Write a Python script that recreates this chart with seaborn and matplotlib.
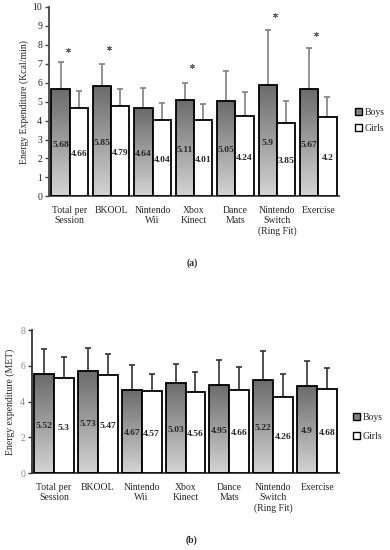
import numpy as np
import pandas as pd
import matplotlib
matplotlib.use("Agg")
import matplotlib.pyplot as plt
import seaborn as sns
from matplotlib.colors import LinearSegmentedColormap
from matplotlib.patches import Patch

# ---------------- data ----------------
categories = ["Total per\nSession", "BKOOL", "Nintendo\nWii", "Xbox\nKinect",
              "Dance\nMats", "Nintendo\nSwitch\n(Ring Fit)", "Exercise"]
groups = ["Boys", "Girls"]

kcal_boys = [5.68, 5.85, 4.64, 5.11, 5.05, 5.9, 5.67]
kcal_girls = [4.66, 4.79, 4.04, 4.01, 4.24, 3.85, 4.2]
kcal_boys_sd = [1.39, 1.16, 1.07, 0.88, 1.57, 2.89, 2.17]
kcal_girls_sd = [0.89, 0.89, 0.88, 0.89, 1.28, 1.19, 1.05]
kcal_star_y = [7.75, 7.84, None, 6.86, None, 9.56, 8.6]

met_boys = [5.52, 5.73, 4.67, 5.03, 4.95, 5.22, 4.9]
met_girls = [5.3, 5.47, 4.57, 4.56, 4.66, 4.26, 4.68]
met_boys_sd = [1.41, 1.29, 1.40, 1.09, 1.40, 1.61, 1.39]
met_girls_sd = [1.20, 1.21, 1.00, 1.12, 1.30, 1.31, 1.20]

sns.set_style("ticks")
plt.rcParams["font.family"] = ["Liberation Serif", "DejaVu Serif"]

fig = plt.figure(figsize=(3.9, 5.5), dpi=100)
ax_a = fig.add_axes([49 / 390, 1 - 196.3 / 550, 290 / 390, 189.3 / 550])
ax_b = fig.add_axes([32 / 390, 1 - 473.3 / 550, 307 / 390, 143.3 / 550])

grad_cmap = LinearSegmentedColormap.from_list("g", ["#d4d4d4", "#6a6a6a"])
grad = np.linspace(0, 1, 256).reshape(-1, 1)


def draw_panel(ax, boys, girls, boys_sd, girls_sd, width, ylim, yticks,
               ecolor, spine_color, ticklabel_color, ylabel, ylabel_x,
               legend_anchor, labelspacing, stars=None):
    df = pd.DataFrame({
        "Category": categories * 2,
        "Sex": ["Boys"] * len(categories) + ["Girls"] * len(categories),
        "Value": boys + girls,
    })
    sns.barplot(data=df, x="Category", y="Value", hue="Sex", hue_order=groups,
                palette={"Boys": "#9a9a9a", "Girls": "white"},
                edgecolor="black", linewidth=1.3, width=width,
                errorbar=None, legend=False, ax=ax)

    conts = ax.containers
    for cont, vals, sds in zip(conts, [boys, girls], [boys_sd, girls_sd]):
        xs = [b.get_x() + b.get_width() / 2 for b in cont]
        ax.errorbar(xs, vals, yerr=[np.zeros(len(sds)), sds], fmt="none",
                    ecolor=ecolor, elinewidth=1.2, capsize=2.3, capthick=1.2,
                    zorder=1.5)
        for b in cont:
            b.set_zorder(3)
        for x, v in zip(xs, vals):
            ax.text(x, v * 0.48, f"{v:g}", ha="center", va="center",
                    fontsize=6.8, fontweight="bold", zorder=5)

    # gradient fill for boys bars
    for b in conts[0]:
        x0, w, h = b.get_x(), b.get_width(), b.get_height()
        im = ax.imshow(grad, extent=[x0, x0 + w, 0, h], origin="lower",
                       cmap=grad_cmap, aspect="auto", zorder=2.5,
                       interpolation="bilinear")
        im.set_clip_path(b)
        b.set_facecolor("none")

    if stars is not None:
        for i, sy in enumerate(stars):
            if sy is not None:
                ax.scatter([i - 0.05], [sy], marker=(6, 2, 0), s=8,
                           color="#666666", linewidths=0.7, zorder=5)

    ax.set_xlim(-0.5, len(categories) - 0.5)
    ax.set_ylim(*ylim)
    ax.set_yticks(yticks)
    ax.set_xlabel("")
    ax.set_ylabel(ylabel, fontsize=7)
    ax.yaxis.set_label_coords(ylabel_x, 0.5)
    ax.tick_params(axis="x", length=0, pad=7, labelsize=7)
    ax.tick_params(axis="y", length=3, width=1, color=spine_color,
                   labelsize=7, labelcolor=ticklabel_color, pad=2)
    for lbl in ax.get_xticklabels():
        lbl.set_linespacing(1.15)
    sns.despine(ax=ax)
    for s in ["left", "bottom"]:
        ax.spines[s].set_color(spine_color)
        ax.spines[s].set_linewidth(1.3)

    handles = [Patch(facecolor="#808080", edgecolor="black", linewidth=1.0, label="Boys"),
               Patch(facecolor="white", edgecolor="black", linewidth=1.0, label="Girls")]
    ax.legend(handles=handles, loc="center left", bbox_to_anchor=legend_anchor,
              frameon=False, fontsize=7, handlelength=0.7, handleheight=0.7,
              handletextpad=0.3, labelspacing=labelspacing, borderaxespad=0,
              borderpad=0)


draw_panel(ax_a, kcal_boys, kcal_girls, kcal_boys_sd, kcal_girls_sd, 0.88,
           (0, 10), range(0, 11), "#808080", "#444444", "#222222",
           "Energy Expenditure (Kcal/min)", -0.069, (1.055, 0.40), 0.75,
           stars=kcal_star_y)
draw_panel(ax_b, met_boys, met_girls, met_boys_sd, met_girls_sd, 0.91,
           (0, 8), range(0, 9, 2), "#333333", "#333333", "#888888",
           "Energy expenditure (MET)", -0.055, (1.045, 0.323), 1.05)

fig.text(192 / 390, 1 - 263 / 550, "(a)", ha="center", va="center",
         fontsize=7, fontweight="bold")
fig.text(192 / 390, 1 - 540 / 550, "(b)", ha="center", va="center",
         fontsize=7, fontweight="bold")

fig.savefig("out.png", dpi=100)
